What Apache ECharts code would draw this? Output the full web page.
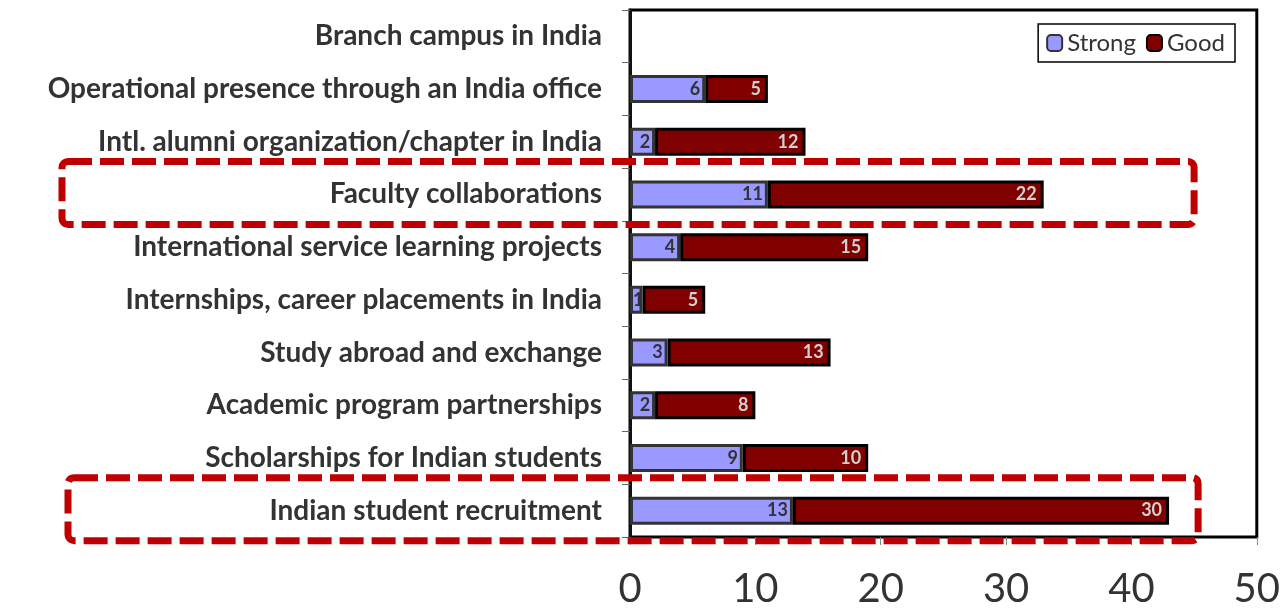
<!DOCTYPE html>
<html>
<head>
<meta charset="utf-8">
<script src="https://cdn.jsdelivr.net/npm/echarts@6/dist/echarts.min.js"></script>
<style>
	html,body{margin:0;padding:0;background:#fff;}
	#main{width:1283px;height:609px;}
</style>
</head>
<body>
<div id="main"></div>
<script>
	// categories, bottom to top
	var categories = ['Indian student recruitment', 'Scholarships for Indian students', 'Academic program partnerships',
		'Study abroad and exchange', 'Internships, career placements in India', 'International service learning projects',
		'Faculty collaborations', 'Intl. alumni organization/chapter in India', 'Operational presence through an India office',
		'Branch campus in India'];
	var strongData = [13, 9, 2, 3, 1, 4, 11, 2, 6, 0];
	var goodData = [30, 10, 8, 13, 5, 15, 22, 12, 5, 0];
	var xTicks = [0, 10, 20, 30, 40, 50];
	var highlighted = ['Faculty collaborations', 'Indian student recruitment'];

	var fontName = 'Lato, "Noto Sans", sans-serif';

	init();
	function init(){
		var myChart = echarts.init(document.getElementById('main'));
		var option = {
			animation: false,
			textStyle: {fontFamily: fontName},
			grid: {
				left: 630, right: 21, top: 10, bottom: 68,
				show: true, borderColor: '#000', borderWidth: 3, backgroundColor: '#fff'
			},
			legend: {
				right: 48, top: 24,
				orient: 'horizontal',
				borderColor: '#000', borderWidth: 1.5,
				padding: [7, 10, 7, 8],
				itemWidth: 15, itemHeight: 16, itemGap: 10,
				textStyle: {fontSize: 24, color: '#333', fontFamily: fontName},
				data: ['Strong', 'Good']
			},
			xAxis: {
				type: 'value',
				min: xTicks[0],
				max: xTicks[xTicks.length - 1],
				interval: 10,
				axisLine: {show: false},
				axisTick: {show: true, length: 8, lineStyle: {color: '#888', width: 1}},
				splitLine: {show: false},
				axisLabel: {fontSize: 40, color: '#333', margin: 32, fontFamily: fontName}
			},
			yAxis: {
				type: 'category',
				data: categories,
				axisLine: {show: true, lineStyle: {color: '#111', width: 3}},
				axisTick: {show: true, length: 8, lineStyle: {color: '#666', width: 1}},
				axisLabel: {fontSize: 28, fontWeight: 'bold', color: '#333', margin: 28, fontFamily: fontName}
			},
			series: [
				{
					name: 'Strong',
					type: 'bar',
					stack: 'total',
					barWidth: 28,
					z: 3,
					data: toBarData(strongData),
					itemStyle: {color: '#9999ff', borderColor: '#333', borderWidth: 3},
					label: {
						show: true, position: 'insideRight', distance: 5, overflow: 'none',
						fontSize: 18, fontWeight: 'bold', color: '#333', fontFamily: fontName,
						formatter: function(p){ return p.value > 0 ? p.value : ''; }
					}
				},
				{
					name: 'Good',
					type: 'bar',
					stack: 'total',
					barWidth: 28,
					data: toBarData(goodData),
					itemStyle: {color: '#800000', borderColor: '#000', borderWidth: 3},
					label: {
						show: true, position: 'insideRight', distance: 7,
						fontSize: 18, fontWeight: 'bold', color: '#d0d0d0', fontFamily: fontName,
						formatter: function(p){ return p.value > 0 ? p.value : ''; }
					}
				}
			]
		};
		myChart.setOption(option);
		drawBoxes(myChart);
	}

	// zero bars get no border, very short ones let the label run over
	function toBarData(arr){
		var list = [];
		for(var i=0;i<arr.length;i++){
			if(arr[i] == 0){
				list.push({value: arr[i], itemStyle: {borderWidth: 0}});
			}else if(arr[i] == 1){
				list.push({value: arr[i], label: {position: [3, '50%'], align: 'left', verticalAlign: 'middle', overflow: 'none'}});
			}else{
				list.push(arr[i]);
			}
		}
		return list;
	}

	// red dashed boxes round the highlighted rows
	function drawBoxes(myChart){
		var right = myChart.convertToPixel({xAxisIndex: 0}, 45);
		var els = [];
		for(var i=0;i<highlighted.length;i++){
			var cy = myChart.convertToPixel({yAxisIndex: 0}, highlighted[i]);
			var left = 62 + i * 6;
			els.push({
				type: 'rect',
				z: 100,
				shape: {x: left, y: cy - 33, width: right - left + i * 4, height: 63, r: 6},
				style: {fill: 'none', stroke: '#c00000', lineWidth: 7, lineDash: [24, 8]}
			});
		}
		myChart.setOption({graphic: els});
	}
</script>
</body>
</html>
